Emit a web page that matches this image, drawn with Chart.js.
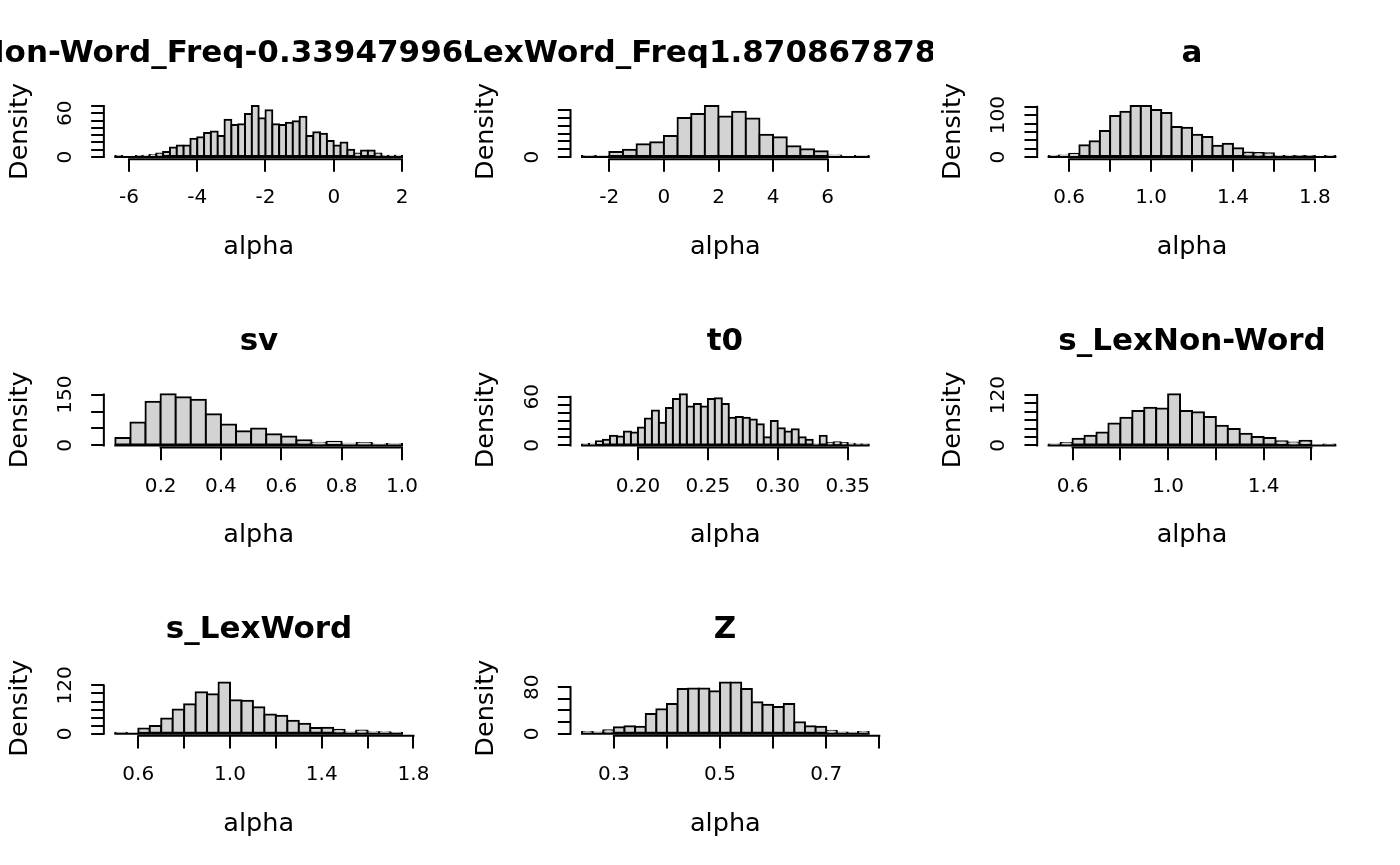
<!DOCTYPE html>
<html>
<head>
<meta charset="utf-8">
<script src="https://cdn.jsdelivr.net/npm/chart.js@4.4.1/dist/chart.umd.min.js"></script>
<style>
html, body { margin: 0; padding: 0; background: #ffffff; width: 1400px; height: 865px; overflow: hidden; }
.fig { position: absolute; overflow: hidden; }
.fig canvas { position: absolute; }
</style>
</head>
<body>
<script>
// ---------------- DATA ----------------
const panelTitles = [
  "v_LexNon-Word_Freq-0.3394799604752128",
  "v_LexWord_Freq1.8708678783610",
  "a", "sv", "t0", "s_LexNon-Word", "s_LexWord", "Z"
];
const xAxisTitle = "alpha";
const yAxisTitle = "Density";

// histogram bin starts and widths
const binStarts = [-6.4, -3, 0.5, 0.05, 0.16, 0.5, 0.5, 0.24];
const binWidths = [0.2, 0.5, 0.05, 0.05, 0.005, 0.05, 0.05, 0.02];

// bar heights per panel
const vNonWordFreq = [1, 0, 0, 1, 2, 3, 5, 7, 13, 16, 16, 25, 27, 33, 35, 29, 51, 44, 45, 59, 70, 53, 64, 45, 44, 47, 49, 55, 29, 34, 32, 22, 16, 20, 10, 5, 9, 9, 5, 1, 2, 2];
const vWordFreq = [2, 3, 13, 19, 33, 38, 54, 100, 110, 131, 104, 116, 99, 57, 51, 28, 20, 15, 4, 0, 3];
const aVals = [2, 4, 8, 28, 38, 62, 98, 108, 122, 122, 112, 105, 72, 70, 53, 48, 27, 32, 21, 11, 10, 9, 2, 2, 1, 1, 0, 2];
const svVals = [22, 68, 129, 151, 142, 135, 92, 62, 42, 50, 33, 26, 15, 8, 11, 5, 7, 2, 4];
const t0Vals = [1, 2, 5, 7, 12, 11, 17, 16, 22, 33, 43, 28, 46, 57, 63, 48, 51, 48, 57, 58, 51, 34, 35, 34, 32, 26, 10, 30, 21, 17, 20, 10, 7, 1, 12, 3, 4, 3, 2, 1, 1];
const sNonWordVals = [1, 6, 16, 23, 31, 52, 66, 82, 90, 88, 122, 82, 79, 68, 47, 39, 28, 20, 18, 10, 7, 11, 0, 2];
const sWordVals = [2, 0, 13, 19, 38, 60, 73, 103, 98, 127, 83, 82, 66, 48, 45, 32, 25, 14, 15, 10, 3, 8, 4, 4, 2];
const zVals = [3, 2, 6, 11, 13, 12, 34, 42, 51, 77, 78, 78, 73, 88, 88, 77, 54, 50, 46, 51, 20, 13, 12, 5, 2, 1, 3];
const panelHeights = [vNonWordFreq, vWordFreq, aVals, svVals, t0Vals, sNonWordVals, sWordVals, zVals];

// axis ticks and labels
const xTickValues = [
  [-6, -4, -2, 0, 2],
  [-2, 0, 2, 4, 6],
  [0.6, 0.8, 1.0, 1.2, 1.4, 1.6, 1.8],
  [0.2, 0.4, 0.6, 0.8, 1.0],
  [0.20, 0.25, 0.30, 0.35],
  [0.6, 0.8, 1.0, 1.2, 1.4, 1.6],
  [0.6, 0.8, 1.0, 1.2, 1.4, 1.6, 1.8],
  [0.3, 0.4, 0.5, 0.6, 0.7, 0.8]
];
const xTickLabels = [
  ["-6", "-4", "-2", "0", "2"],
  ["-2", "0", "2", "4", "6"],
  ["0.6", "", "1.0", "", "1.4", "", "1.8"],
  ["0.2", "0.4", "0.6", "0.8", "1.0"],
  ["0.20", "0.25", "0.30", "0.35"],
  ["0.6", "", "1.0", "", "1.4", ""],
  ["0.6", "", "1.0", "", "1.4", "", "1.8"],
  ["0.3", "", "0.5", "", "0.7", ""]
];
const yTickValues = [
  [0, 10, 20, 30, 40, 50, 60, 70],
  [0, 20, 40, 60, 80, 100, 120],
  [0, 20, 40, 60, 80, 100, 120],
  [0, 50, 100, 150],
  [0, 10, 20, 30, 40, 50, 60],
  [0, 20, 40, 60, 80, 100, 120],
  [0, 20, 40, 60, 80, 100, 120],
  [0, 20, 40, 60, 80]
];
const yTickLabels = [
  ["0", "", "", "", "", "", "60", ""],
  ["0", "", "", "", "", "", ""],
  ["0", "", "", "", "", "100", ""],
  ["0", "", "", "150"],
  ["0", "", "", "", "", "", "60"],
  ["0", "", "", "", "", "", "120"],
  ["0", "", "", "", "", "", "120"],
  ["0", "", "", "", "80"]
];

// ---------------- LAYOUT / STYLE ----------------
const FIG_W = 1400 / 3, FIG_H = 865 / 3, LINE = 25.33;
const CW = 900, CH = 290;
const TICK_LEN = 12.7;
const FONT = '"DejaVu Sans", sans-serif';
const TICK_SIZE = 20, LAB_SIZE = 25.5, MAIN_SIZE = 31;

Chart.defaults.font.family = FONT;
Chart.defaults.color = '#000';

const measure = document.createElement('canvas').getContext('2d');
measure.font = TICK_SIZE + 'px ' + FONT;

const axisLinePlugin = {
  id: 'rAxisLines',
  afterDatasetsDraw(chart, args, opts) {
    const { ctx, chartArea: a, scales: { x, y } } = chart;
    ctx.save();
    ctx.strokeStyle = '#000';
    ctx.lineWidth = 2;
    ctx.lineCap = 'square';
    ctx.beginPath();
    // histogram baseline (bottom edges of all bins)
    const y0 = y.getPixelForValue(0);
    ctx.moveTo(x.getPixelForValue(opts.lo), y0);
    ctx.lineTo(x.getPixelForValue(opts.hi), y0);
    ctx.stroke();
    ctx.beginPath();
    const xt = x.ticks, yt = y.ticks;
    ctx.moveTo(x.getPixelForValue(xt[0].value), a.bottom);
    ctx.lineTo(x.getPixelForValue(xt[xt.length - 1].value), a.bottom);
    ctx.moveTo(a.left, y.getPixelForValue(yt[0].value));
    ctx.lineTo(a.left, y.getPixelForValue(yt[yt.length - 1].value));
    ctx.stroke();
    ctx.restore();
  }
};

panelHeights.forEach((heights, i) => {
  const row = Math.floor(i / 3), col = i % 3;
  const figL = col * FIG_W, figT = row * FIG_H;
  const plotL = figL + 4.1 * LINE, plotR = figL + FIG_W - 2.1 * LINE;
  const plotT = figT + 4.1 * LINE, plotB = figT + FIG_H - 5.1 * LINE;
  const cx = (plotL + plotR) / 2;
  const L = Math.round(cx - CW / 2), T = Math.round(figT);
  const aL = plotL - L, aR = plotR - L, aT = plotT - T, aB = plotB - T;

  const fig = document.createElement('div');
  fig.className = 'fig';
  fig.style.left = figL + 'px'; fig.style.top = figT + 'px';
  fig.style.width = FIG_W + 'px'; fig.style.height = FIG_H + 'px';
  const cv = document.createElement('canvas');
  cv.width = CW; cv.height = CH;
  cv.style.left = (L - figL) + 'px'; cv.style.top = (T - figT) + 'px';
  cv.style.width = CW + 'px'; cv.style.height = CH + 'px';
  fig.appendChild(cv);
  document.body.appendChild(fig);

  const start = binStarts[i], w = binWidths[i];
  const lo = start, hi = start + heights.length * w;
  const ext = 0.04 * (hi - lo);
  const M = Math.max(...heights);
  const data = heights.map((h, k) => ({ x: start + (k + 0.5) * w, y: h }));

  const titleLH = MAIN_SIZE * 1.2;
  const titleMid = figT + 53.5 - T;
  const tPadTop = titleMid - titleLH / 2;
  const tPadBottom = aT - tPadTop - titleLH;

  const labLH = LAB_SIZE * 1.2;
  const xTitleMid = figT + 247.5 - T;
  const xTitlePad = CH - xTitleMid - labLH / 2;
  const yTitleMid = figL + 20 - L;
  const yTitlePad = yTitleMid - labLH / 2;

  const ylabs = yTickLabels[i];
  const widest = Math.max(...ylabs.filter(s => s).map(s => measure.measureText(s).width));
  const yTickPad = 38.2 - TICK_LEN - widest / 2;
  const xTickPad = 39 - TICK_LEN - TICK_SIZE * 1.2 / 2;

  new Chart(cv, {
    type: 'bar',
    data: {
      datasets: [{
        data,
        backgroundColor: '#D3D3D3',
        borderColor: '#000000',
        borderWidth: 2,
        borderSkipped: false,
        inflateAmount: 1,
        barPercentage: 1,
        categoryPercentage: 1
      }]
    },
    options: {
      responsive: false,
      maintainAspectRatio: false,
      animation: false,
      devicePixelRatio: 1,
      layout: { padding: 0 },
      plugins: {
        legend: { display: false },
        tooltip: { enabled: false },
        title: {
          display: true,
          text: panelTitles[i],
          color: '#000',
          font: { family: FONT, size: MAIN_SIZE, weight: 'bold' },
          padding: { top: tPadTop, bottom: tPadBottom }
        },
        rAxisLines: { lo, hi }
      },
      scales: {
        x: {
          type: 'linear',
          position: 'bottom',
          min: lo - ext,
          max: hi + ext,
          offset: false,
          afterBuildTicks: s => { s.ticks = xTickValues[i].map(v => ({ value: v })); },
          afterFit: s => { s.height = CH - aB; },
          ticks: {
            autoSkip: false, minRotation: 0, maxRotation: 0,
            padding: xTickPad,
            color: '#000',
            font: { size: TICK_SIZE },
            callback: (v, k) => xTickLabels[i][k]
          },
          grid: { display: true, drawOnChartArea: false, drawTicks: true, tickLength: TICK_LEN, color: '#000', lineWidth: 2, offset: false },
          border: { display: false },
          title: { display: true, text: xAxisTitle, color: '#000', font: { size: LAB_SIZE }, padding: { top: xTitlePad, bottom: xTitlePad } }
        },
        y: {
          type: 'linear',
          position: 'left',
          min: -0.04 * M,
          max: 1.04 * M,
          afterBuildTicks: s => { s.ticks = yTickValues[i].map(v => ({ value: v })); },
          afterFit: s => { s.width = aL; },
          ticks: {
            autoSkip: false, minRotation: 90, maxRotation: 90,
            crossAlign: 'center',
            padding: yTickPad,
            color: '#000',
            font: { size: TICK_SIZE },
            callback: (v, k) => yTickLabels[i][k]
          },
          grid: { display: true, drawOnChartArea: false, drawTicks: true, tickLength: TICK_LEN, color: '#000', lineWidth: 2 },
          border: { display: false },
          title: { display: true, text: yAxisTitle, color: '#000', font: { size: LAB_SIZE }, padding: { top: yTitlePad, bottom: yTitlePad } }
        },
        yR: {
          type: 'linear',
          position: 'right',
          display: true,
          afterFit: s => { s.width = CW - aR; },
          grid: { display: false },
          ticks: { display: false },
          border: { display: false }
        }
      }
    },
    plugins: [axisLinePlugin]
  });
});
</script>
</body>
</html>
